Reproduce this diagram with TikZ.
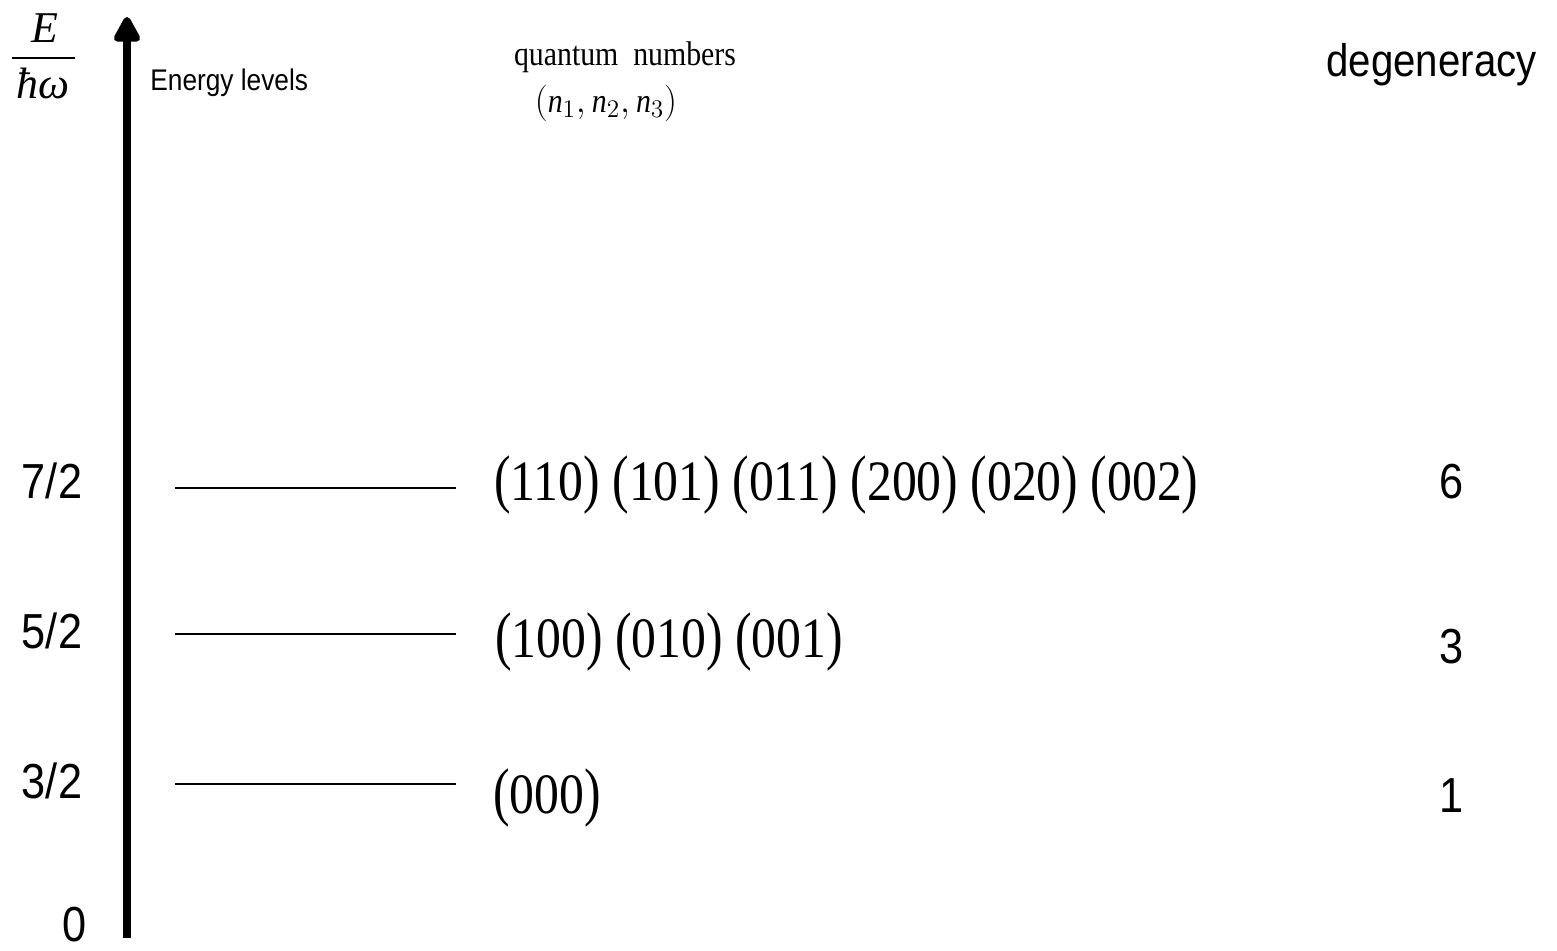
\documentclass[tikz,border=0pt]{standalone}
\usepackage{graphicx}
\usepackage{fontspec}
\setmainfont{Liberation Serif}
\setsansfont{Liberation Sans}
\newfontfamily\narrowsans[FakeStretch=0.88]{Liberation Sans}
\newfontfamily\narrowserif[FakeStretch=0.87]{Liberation Serif}
\usetikzlibrary{arrows.meta,positioning}
\newcommand{\tallparen}[1]{\scalebox{1}[1.13]{#1}}
\newcommand{\qstate}[1]{\tallparen{(}#1\tallparen{)}}
\tikzset{
  axis/.style={line width=4pt,-{Stealth[length=5.8mm,width=5.8mm,inset=0pt,round]}},
  level/.style={line width=1.1pt},
  sflabel/.style={font=\narrowsans\fontsize{28}{32}\selectfont,inner sep=0pt,anchor=base},
  states/.style={font=\narrowserif\fontsize{32.5}{36}\selectfont,anchor=base west,inner sep=0pt},
  heading/.style={font=\narrowserif\fontsize{19.5}{22}\selectfont,inner sep=0pt,anchor=base},
  fracpart/.style={font=\itshape\fontsize{25}{28}\selectfont,inner sep=0pt,anchor=base}
}

\begin{document}
\begin{tikzpicture}[x=0.02cm,y=-0.02cm]
\useasboundingbox (0,0) rectangle (1557,950);
% energy axis
\coordinate (base) at (127,938);
\coordinate (top) at (127,17);
\draw[axis] (base) -- (top);
\node[fracpart] (enum) at (45,42) {E};
\node[fracpart] (hbar) at (43,98) {ħω};
\coordinate (barl) at (12,58);
\coordinate (barr) at (75,58);
\draw[line width=1.1pt] (barl) -- (barr);
\node[font=\narrowsans\fontsize{17}{20}\selectfont,anchor=base west,inner sep=0pt] (axislabel) at (150,90) {Energy levels};
% headings
\node[heading] (qn) at (625,65) {quantum\ \ numbers};
\node[heading] (ntriple) at (606,112) {$(\textit{n}_1,\textit{n}_2,\textit{n}_3)$};
\node[font=\narrowsans\fontsize{26}{30}\selectfont,inner sep=0pt,anchor=base east] (deg) at (1537,76) {degeneracy};
% levels
\foreach \name/\y/\b/\lab in {seven/488/498/7\slash 2,five/634/648/5\slash 2,three/784/798/3\slash 2}{
  \coordinate (\name a) at (175,\y);
  \coordinate (\name b) at (456,\y);
  \draw[level] (\name a) -- (\name b);
  \node[sflabel] (\name lab) at (52,\b) {\lab};
}
\node[sflabel] (zerolab) at (75,941) {0};
% states and degeneracy
\node[states] (sevenst) at (494,500) {\qstate{110} \qstate{101} \qstate{011} \qstate{200} \qstate{020} \qstate{002}};
\node[states] (fivest) at (495,657) {\qstate{100} \qstate{010} \qstate{001}};
\node[states] (threest) at (493,813) {\qstate{000}};
\node[sflabel] (sevendeg) at (1452,498) {6};
\node[sflabel] (fivedeg) at (1452,663) {3};
\node[sflabel] (threedeg) at (1452,812) {1};
\end{tikzpicture}
\end{document}
